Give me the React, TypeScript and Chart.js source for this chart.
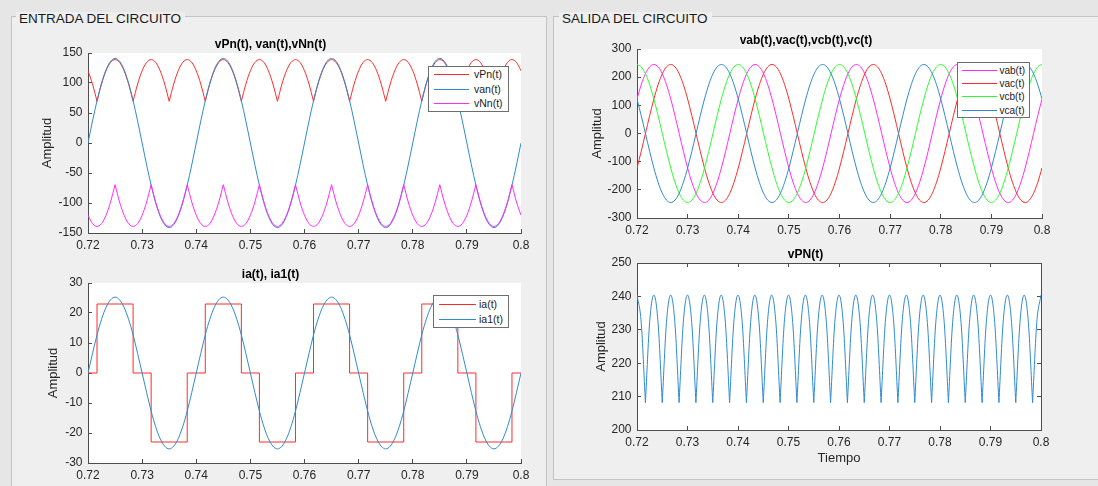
import React, { useEffect, useRef } from 'react';
import { Chart, registerables } from 'chart.js';

Chart.register(...registerables);

const FONT = '"Liberation Sans", Arial, Helvetica, sans-serif';
const AXIS_LINE = '#4d4d4d';
const TICK_TEXT = '#262626';

const RED = '#ff2b2b';
const BLUE = '#2f8bd0';
const MAGENTA = '#ff2bff';
const GREEN = '#2bff2b';

// ---------- axes ----------
const X_MIN = 0.72;
const X_MAX = 0.8;
const xTicks = [0.72, 0.73, 0.74, 0.75, 0.76, 0.77, 0.78, 0.79, 0.8];
const xTickLabels = ['0.72', '0.73', '0.74', '0.75', '0.76', '0.77', '0.78', '0.79', '0.8'];

const yTicksA = [-150, -100, -50, 0, 50, 100, 150];
const yLabelsA = ['-150', '-100', '-50', '0', '50', '100', '150'];
const yTicksB = [-30, -20, -10, 0, 10, 20, 30];
const yLabelsB = ['-30', '-20', '-10', '0', '10', '20', '30'];
const yTicksC = [-300, -200, -100, 0, 100, 200, 300];
const yLabelsC = ['-300', '-200', '-100', '0', '100', '200', '300'];
const yTicksD = [200, 210, 220, 230, 240, 250];
const yLabelsD = ['200', '210', '220', '230', '240', '250'];

// ---------- sample times (s) ----------
const tGrid = [
  0.72, 0.720833, 0.721667, 0.7225, 0.723333, 0.724167, 0.725, 0.725833, 0.726667, 0.7275, 0.728333, 0.729167,
  0.73, 0.730833, 0.731667, 0.7325, 0.733333, 0.734167, 0.735, 0.735833, 0.736667, 0.7375, 0.738333, 0.739167,
  0.74, 0.740833, 0.741667, 0.7425, 0.743333, 0.744167, 0.745, 0.745833, 0.746667, 0.7475, 0.748333, 0.749167,
  0.75, 0.750833, 0.751667, 0.7525, 0.753333, 0.754167, 0.755, 0.755833, 0.756667, 0.7575, 0.758333, 0.759167,
  0.76, 0.760833, 0.761667, 0.7625, 0.763333, 0.764167, 0.765, 0.765833, 0.766667, 0.7675, 0.768333, 0.769167,
  0.77, 0.770833, 0.771667, 0.7725, 0.773333, 0.774167, 0.775, 0.775833, 0.776667, 0.7775, 0.778333, 0.779167,
  0.78, 0.780833, 0.781667, 0.7825, 0.783333, 0.784167, 0.785, 0.785833, 0.786667, 0.7875, 0.788333, 0.789167,
  0.79, 0.790833, 0.791667, 0.7925, 0.793333, 0.794167, 0.795, 0.795833, 0.796667, 0.7975, 0.798333, 0.799167,
  0.8,
];

// ---------- ENTRADA: vPn(t), van(t), vNn(t) ----------
const vPn = [
  120.4, 98.3, 69.5, 98.3, 120.4, 134.3, 139, 134.3, 120.4, 98.3, 69.5, 98.3, 120.4, 134.3, 139, 134.3, 120.4, 98.3, 69.5, 98.3, 120.4, 134.3, 139, 134.3,
  120.4, 98.3, 69.5, 98.3, 120.4, 134.3, 139, 134.3, 120.4, 98.3, 69.5, 98.3, 120.4, 134.3, 139, 134.3, 120.4, 98.3, 69.5, 98.3, 120.4, 134.3, 139, 134.3,
  120.4, 98.3, 69.5, 98.3, 120.4, 134.3, 139, 134.3, 120.4, 98.3, 69.5, 98.3, 120.4, 134.3, 139, 134.3, 120.4, 98.3, 69.5, 98.3, 120.4, 134.3, 139, 134.3,
  120.4, 98.3, 69.5, 98.3, 120.4, 134.3, 139, 134.3, 120.4, 98.3, 69.5, 98.3, 120.4, 134.3, 139, 134.3, 120.4, 98.3, 69.5, 98.3, 120.4, 134.3, 139, 134.3,
  120.4,
];
const van = [
  0, 36.5, 70.5, 99.7, 122.1, 136.2, 141, 136.2, 122.1, 99.7, 70.5, 36.5, 0, -36.5, -70.5, -99.7, -122.1, -136.2, -141, -136.2, -122.1, -99.7, -70.5, -36.5,
  0, 36.5, 70.5, 99.7, 122.1, 136.2, 141, 136.2, 122.1, 99.7, 70.5, 36.5, 0, -36.5, -70.5, -99.7, -122.1, -136.2, -141, -136.2, -122.1, -99.7, -70.5, -36.5,
  0, 36.5, 70.5, 99.7, 122.1, 136.2, 141, 136.2, 122.1, 99.7, 70.5, 36.5, 0, -36.5, -70.5, -99.7, -122.1, -136.2, -141, -136.2, -122.1, -99.7, -70.5, -36.5,
  0, 36.5, 70.5, 99.7, 122.1, 136.2, 141, 136.2, 122.1, 99.7, 70.5, 36.5, 0, -36.5, -70.5, -99.7, -122.1, -136.2, -141, -136.2, -122.1, -99.7, -70.5, -36.5,
  0,
];
const vNn = [
  -120.4, -134.3, -139, -134.3, -120.4, -98.3, -69.5, -98.3, -120.4, -134.3, -139, -134.3, -120.4, -98.3, -69.5, -98.3, -120.4, -134.3, -139, -134.3, -120.4, -98.3, -69.5, -98.3,
  -120.4, -134.3, -139, -134.3, -120.4, -98.3, -69.5, -98.3, -120.4, -134.3, -139, -134.3, -120.4, -98.3, -69.5, -98.3, -120.4, -134.3, -139, -134.3, -120.4, -98.3, -69.5, -98.3,
  -120.4, -134.3, -139, -134.3, -120.4, -98.3, -69.5, -98.3, -120.4, -134.3, -139, -134.3, -120.4, -98.3, -69.5, -98.3, -120.4, -134.3, -139, -134.3, -120.4, -98.3, -69.5, -98.3,
  -120.4, -134.3, -139, -134.3, -120.4, -98.3, -69.5, -98.3, -120.4, -134.3, -139, -134.3, -120.4, -98.3, -69.5, -98.3, -120.4, -134.3, -139, -134.3, -120.4, -98.3, -69.5, -98.3,
  -120.4,
];

// ---------- ENTRADA: ia(t), ia1(t) ----------
const tIa = [0.72, 0.721667, 0.728333, 0.731667, 0.738333, 0.741667, 0.748333, 0.751667, 0.758333, 0.761667, 0.768333, 0.771667, 0.778333, 0.781667, 0.788333, 0.791667, 0.798333, 0.8];
const ia = [0, 23, 0, -23, 0, 23, 0, -23, 0, 23, 0, -23, 0, 23, 0, -23, 0, 0];
const ia1 = [
  0, 6.5, 12.7, 17.9, 21.9, 24.4, 25.3, 24.4, 21.9, 17.9, 12.7, 6.5, 0, -6.5, -12.7, -17.9, -21.9, -24.4, -25.3, -24.4, -21.9, -17.9, -12.7, -6.5,
  0, 6.5, 12.7, 17.9, 21.9, 24.4, 25.3, 24.4, 21.9, 17.9, 12.7, 6.5, 0, -6.5, -12.7, -17.9, -21.9, -24.4, -25.3, -24.4, -21.9, -17.9, -12.7, -6.5,
  0, 6.5, 12.7, 17.9, 21.9, 24.4, 25.3, 24.4, 21.9, 17.9, 12.7, 6.5, 0, -6.5, -12.7, -17.9, -21.9, -24.4, -25.3, -24.4, -21.9, -17.9, -12.7, -6.5,
  0, 6.5, 12.7, 17.9, 21.9, 24.4, 25.3, 24.4, 21.9, 17.9, 12.7, 6.5, 0, -6.5, -12.7, -17.9, -21.9, -24.4, -25.3, -24.4, -21.9, -17.9, -12.7, -6.5,
  0,
];

// ---------- SALIDA: vab, vac, vcb, vca ----------
const vab = [
  122.5, 173.2, 212.2, 236.7, 245, 236.7, 212.2, 173.2, 122.5, 63.4, 0, -63.4, -122.5, -173.2, -212.2, -236.7, -245, -236.7, -212.2, -173.2, -122.5, -63.4, 0, 63.4,
  122.5, 173.2, 212.2, 236.7, 245, 236.7, 212.2, 173.2, 122.5, 63.4, 0, -63.4, -122.5, -173.2, -212.2, -236.7, -245, -236.7, -212.2, -173.2, -122.5, -63.4, 0, 63.4,
  122.5, 173.2, 212.2, 236.7, 245, 236.7, 212.2, 173.2, 122.5, 63.4, 0, -63.4, -122.5, -173.2, -212.2, -236.7, -245, -236.7, -212.2, -173.2, -122.5, -63.4, 0, 63.4,
  122.5, 173.2, 212.2, 236.7, 245, 236.7, 212.2, 173.2, 122.5, 63.4, 0, -63.4, -122.5, -173.2, -212.2, -236.7, -245, -236.7, -212.2, -173.2, -122.5, -63.4, 0, 63.4,
  122.5,
];
const vac = [
  -122.5, -63.4, 0, 63.4, 122.5, 173.2, 212.2, 236.7, 245, 236.7, 212.2, 173.2, 122.5, 63.4, 0, -63.4, -122.5, -173.2, -212.2, -236.7, -245, -236.7, -212.2, -173.2,
  -122.5, -63.4, 0, 63.4, 122.5, 173.2, 212.2, 236.7, 245, 236.7, 212.2, 173.2, 122.5, 63.4, 0, -63.4, -122.5, -173.2, -212.2, -236.7, -245, -236.7, -212.2, -173.2,
  -122.5, -63.4, 0, 63.4, 122.5, 173.2, 212.2, 236.7, 245, 236.7, 212.2, 173.2, 122.5, 63.4, 0, -63.4, -122.5, -173.2, -212.2, -236.7, -245, -236.7, -212.2, -173.2,
  -122.5, -63.4, 0, 63.4, 122.5, 173.2, 212.2, 236.7, 245, 236.7, 212.2, 173.2, 122.5, 63.4, 0, -63.4, -122.5, -173.2, -212.2, -236.7, -245, -236.7, -212.2, -173.2,
  -122.5,
];
const vcb = [
  245, 236.7, 212.2, 173.2, 122.5, 63.4, 0, -63.4, -122.5, -173.2, -212.2, -236.7, -245, -236.7, -212.2, -173.2, -122.5, -63.4, 0, 63.4, 122.5, 173.2, 212.2, 236.7,
  245, 236.7, 212.2, 173.2, 122.5, 63.4, 0, -63.4, -122.5, -173.2, -212.2, -236.7, -245, -236.7, -212.2, -173.2, -122.5, -63.4, 0, 63.4, 122.5, 173.2, 212.2, 236.7,
  245, 236.7, 212.2, 173.2, 122.5, 63.4, 0, -63.4, -122.5, -173.2, -212.2, -236.7, -245, -236.7, -212.2, -173.2, -122.5, -63.4, 0, 63.4, 122.5, 173.2, 212.2, 236.7,
  245, 236.7, 212.2, 173.2, 122.5, 63.4, 0, -63.4, -122.5, -173.2, -212.2, -236.7, -245, -236.7, -212.2, -173.2, -122.5, -63.4, 0, 63.4, 122.5, 173.2, 212.2, 236.7,
  245,
];
const vca = [
  122.5, 63.4, 0, -63.4, -122.5, -173.2, -212.2, -236.7, -245, -236.7, -212.2, -173.2, -122.5, -63.4, 0, 63.4, 122.5, 173.2, 212.2, 236.7, 245, 236.7, 212.2, 173.2,
  122.5, 63.4, 0, -63.4, -122.5, -173.2, -212.2, -236.7, -245, -236.7, -212.2, -173.2, -122.5, -63.4, 0, 63.4, 122.5, 173.2, 212.2, 236.7, 245, 236.7, 212.2, 173.2,
  122.5, 63.4, 0, -63.4, -122.5, -173.2, -212.2, -236.7, -245, -236.7, -212.2, -173.2, -122.5, -63.4, 0, 63.4, 122.5, 173.2, 212.2, 236.7, 245, 236.7, 212.2, 173.2,
  122.5, 63.4, 0, -63.4, -122.5, -173.2, -212.2, -236.7, -245, -236.7, -212.2, -173.2, -122.5, -63.4, 0, 63.4, 122.5, 173.2, 212.2, 236.7, 245, 236.7, 212.2, 173.2,
  122.5,
];

// ---------- SALIDA: vPN(t) ----------
const vPN = [
  240.4, 232.2, 208.2, 232.2, 240.4, 232.2, 208.2, 232.2, 240.4, 232.2, 208.2, 232.2, 240.4, 232.2, 208.2, 232.2, 240.4, 232.2, 208.2, 232.2, 240.4, 232.2, 208.2, 232.2,
  240.4, 232.2, 208.2, 232.2, 240.4, 232.2, 208.2, 232.2, 240.4, 232.2, 208.2, 232.2, 240.4, 232.2, 208.2, 232.2, 240.4, 232.2, 208.2, 232.2, 240.4, 232.2, 208.2, 232.2,
  240.4, 232.2, 208.2, 232.2, 240.4, 232.2, 208.2, 232.2, 240.4, 232.2, 208.2, 232.2, 240.4, 232.2, 208.2, 232.2, 240.4, 232.2, 208.2, 232.2, 240.4, 232.2, 208.2, 232.2,
  240.4, 232.2, 208.2, 232.2, 240.4, 232.2, 208.2, 232.2, 240.4, 232.2, 208.2, 232.2, 240.4, 232.2, 208.2, 232.2, 240.4, 232.2, 208.2, 232.2, 240.4, 232.2, 208.2, 232.2,
  240.4,
];

// ---------- helpers ----------
const pts = (t: number[], v: number[]) => t.map((x, i) => ({ x, y: v[i] }));

// split a rectified waveform at its sharp commutation points so each arc is smoothed on its own
function arcs(t: number[], v: number[], cusp: 'min' | 'max') {
  const p = pts(t, v);
  const out: { x: number; y: number }[][] = [];
  let s = 0;
  for (let i = 1; i < v.length - 1; i++) {
    const c = cusp === 'min' ? v[i] < v[i - 1] && v[i] < v[i + 1] : v[i] > v[i - 1] && v[i] > v[i + 1];
    if (c) {
      out.push(p.slice(s, i + 1));
      s = i;
    }
  }
  out.push(p.slice(s));
  return out;
}

function line(label: string, data: any[], color: string, order: number, extra: any = {}) {
  return {
    label,
    data,
    borderColor: color,
    backgroundColor: color,
    borderWidth: 1,
    pointRadius: 0,
    pointHoverRadius: 0,
    fill: false,
    cubicInterpolationMode: 'monotone',
    order,
    ...extra,
  };
}

interface PlotSpec {
  key: string;
  x: number;
  y: number;
  w: number;
  h: number;
  area: { l: number; t: number; r: number; b: number };
  title: string;
  yMin: number;
  yMax: number;
  yTicks: number[];
  yLabels: string[];
  yTitleCx: number;
  box: boolean;
  xTitle?: string;
  xTitleCy?: number;
  datasets: any[];
}

const whiteArea = {
  id: 'whiteArea',
  beforeDraw(chart: any) {
    const { ctx, chartArea: a } = chart;
    ctx.save();
    ctx.fillStyle = '#ffffff';
    ctx.fillRect(a.left, a.top, a.right - a.left, a.bottom - a.top);
    ctx.restore();
  },
};

function buildConfig(spec: PlotSpec): any {
  const Wy = spec.area.l - spec.x;
  const padR = spec.x + spec.w - spec.area.r;
  const Hx = spec.y + spec.h - spec.area.b;
  const topBlock = spec.area.t - spec.y;
  const titleLH = 12 * 1.2;
  const titleCenter = topBlock - 8.5;
  const tPadTop = titleCenter - titleLH / 2;
  const tPadBottom = topBlock - tPadTop - titleLH;
  const yTitlePad = spec.yTitleCx - spec.x - (13 * 1.2) / 2;

  const tickFont = { family: FONT, size: 12 };
  const grid = {
    display: true,
    drawOnChartArea: false,
    drawTicks: true,
    tickLength: -4,
    color: AXIS_LINE,
    tickColor: AXIS_LINE,
    lineWidth: 1,
  };
  const border = { display: true, color: AXIS_LINE, width: 1 };
  const setXTicks = (s: any) => {
    s.ticks = xTicks.map((value) => ({ value }));
  };
  const setYTicks = (s: any) => {
    s.ticks = spec.yTicks.map((value) => ({ value }));
  };

  const scales: any = {
    x: {
      type: 'linear',
      position: 'bottom',
      min: X_MIN,
      max: X_MAX,
      afterBuildTicks: setXTicks,
      afterFit: (s: any) => {
        s.height = Hx;
      },
      ticks: {
        autoSkip: false,
        maxRotation: 0,
        minRotation: 0,
        padding: 9.5,
        font: tickFont,
        color: TICK_TEXT,
        callback: (_v: any, i: number) => xTickLabels[i],
      },
      grid,
      border,
      title: spec.xTitle
        ? {
            display: true,
            text: spec.xTitle,
            font: { family: FONT, size: 13 },
            color: TICK_TEXT,
            padding: { top: 0, bottom: Hx - 7.8 - ((spec.xTitleCy as number) - spec.area.b) },
          }
        : { display: false },
    },
    y: {
      type: 'linear',
      position: 'left',
      min: spec.yMin,
      max: spec.yMax,
      afterBuildTicks: setYTicks,
      afterFit: (s: any) => {
        s.width = Wy;
      },
      ticks: {
        autoSkip: false,
        padding: 9.5,
        font: tickFont,
        color: TICK_TEXT,
        callback: (_v: any, i: number) => spec.yLabels[i],
      },
      grid,
      border,
      title: {
        display: true,
        text: 'Amplitud',
        font: { family: FONT, size: 13 },
        color: TICK_TEXT,
        padding: { top: yTitlePad, bottom: 0 },
      },
    },
  };

  if (spec.box) {
    scales.x2 = {
      type: 'linear',
      position: 'top',
      min: X_MIN,
      max: X_MAX,
      afterBuildTicks: setXTicks,
      afterFit: (s: any) => {
        s.height = 0;
      },
      ticks: { display: false },
      grid,
      border,
    };
    scales.y2 = {
      type: 'linear',
      position: 'right',
      min: spec.yMin,
      max: spec.yMax,
      afterBuildTicks: setYTicks,
      afterFit: (s: any) => {
        s.width = 0;
      },
      ticks: { display: false },
      grid,
      border,
    };
  }

  return {
    type: 'line',
    data: { datasets: spec.datasets },
    plugins: [whiteArea],
    options: {
      animation: false,
      responsive: false,
      devicePixelRatio: 1,
      events: [],
      layout: { padding: { left: 0, top: 0, right: padR, bottom: 0 } },
      scales,
      plugins: {
        legend: { display: false },
        tooltip: { enabled: false },
        title: {
          display: true,
          text: spec.title,
          color: '#000000',
          font: { family: FONT, size: 12, weight: 'bold' },
          padding: { top: tPadTop, bottom: tPadBottom },
        },
      },
    },
  };
}

// ---------- plot definitions ----------
const plotA: PlotSpec = {
  key: 'A',
  x: 20,
  y: 29,
  w: 523,
  h: 228,
  area: { l: 88, t: 53, r: 521, b: 233 },
  title: 'vPn(t), van(t),vNn(t)',
  yMin: -150,
  yMax: 150,
  yTicks: yTicksA,
  yLabels: yLabelsA,
  yTitleCx: 47,
  box: false,
  datasets: [
    ...arcs(tGrid, vPn, 'min').map((d) => line('vPn(t)', d, RED, 3)),
    line('van(t)', pts(tGrid, van), BLUE, 2),
    ...arcs(tGrid, vNn, 'max').map((d) => line('vNn(t)', d, MAGENTA, 1)),
  ],
};

const plotB: PlotSpec = {
  key: 'B',
  x: 20,
  y: 259,
  w: 523,
  h: 227,
  area: { l: 88, t: 283, r: 521, b: 463 },
  title: 'ia(t), ia1(t)',
  yMin: -30,
  yMax: 30,
  yTicks: yTicksB,
  yLabels: yLabelsB,
  yTitleCx: 53.8,
  box: false,
  datasets: [
    line('ia(t)', pts(tIa, ia), RED, 2, { stepped: 'before', cubicInterpolationMode: 'default', tension: 0 }),
    line('ia1(t)', pts(tGrid, ia1), BLUE, 1),
  ],
};

const plotC: PlotSpec = {
  key: 'C',
  x: 570,
  y: 25,
  w: 494,
  h: 217,
  area: { l: 637, t: 49, r: 1042, b: 218 },
  title: 'vab(t),vac(t),vcb(t),vc(t)',
  yMin: -300,
  yMax: 300,
  yTicks: yTicksC,
  yLabels: yLabelsC,
  yTitleCx: 597,
  box: false,
  datasets: [
    line('vab(t)', pts(tGrid, vab), MAGENTA, 4),
    line('vac(t)', pts(tGrid, vac), RED, 3),
    line('vcb(t)', pts(tGrid, vcb), GREEN, 2),
    line('vca(t)', pts(tGrid, vca), BLUE, 1),
  ],
};

const plotD: PlotSpec = {
  key: 'D',
  x: 570,
  y: 239,
  w: 493,
  h: 227,
  area: { l: 637, t: 263, r: 1041, b: 430 },
  title: 'vPN(t)',
  yMin: 200,
  yMax: 250,
  yTicks: yTicksD,
  yLabels: yLabelsD,
  yTitleCx: 601.7,
  box: true,
  xTitle: 'Tiempo',
  xTitleCy: 458,
  datasets: arcs(tGrid, vPN, 'min').map((d) => line('vPN(t)', d, BLUE, 1)),
};

// ---------- legends ----------
interface LegendSpec {
  x: number;
  y: number;
  w: number;
  h: number;
  lineX0: number;
  lineX1: number;
  textX: number;
  row0: number;
  rowH: number;
  fontSize: number;
  items: [string, string][];
}

const legendA: LegendSpec = {
  x: 428, y: 66, w: 81, h: 46, lineX0: 5, lineX1: 40, textX: 46, row0: 8.5, rowH: 14.5, fontSize: 10.5,
  items: [['vPn(t)', RED], ['van(t)', BLUE], ['vNn(t)', MAGENTA]],
};
const legendB: LegendSpec = {
  x: 433, y: 295, w: 76, h: 33, lineX0: 5, lineX1: 42, textX: 46, row0: 9.3, rowH: 15, fontSize: 10.5,
  items: [['ia(t)', RED], ['ia1(t)', BLUE]],
};
const legendC: LegendSpec = {
  x: 957, y: 62, w: 73, h: 56, lineX0: 4, lineX1: 39, textX: 42.5, row0: 8.5, rowH: 13.2, fontSize: 10,
  items: [['vab(t)', MAGENTA], ['vac(t)', RED], ['vcb(t)', GREEN], ['vca(t)', BLUE]],
};

function Legend({ spec }: { spec: LegendSpec }) {
  return (
    <div
      style={{
        position: 'absolute',
        left: spec.x,
        top: spec.y,
        width: spec.w,
        height: spec.h,
        boxSizing: 'border-box',
        border: '1px solid #6e6e6e',
        background: '#ffffff',
        fontFamily: FONT,
        fontSize: spec.fontSize,
        color: '#1a1a1a',
      }}
    >
      {spec.items.map(([label, color], i) => {
        const cy = spec.row0 + i * spec.rowH;
        return (
          <React.Fragment key={label}>
            <div
              style={{
                position: 'absolute',
                left: spec.lineX0,
                top: cy - 1.5,
                width: spec.lineX1 - spec.lineX0,
                height: 1,
                background: color,
              }}
            />
            <div
              style={{
                position: 'absolute',
                left: spec.textX - 1,
                top: cy - spec.rowH / 2 - 1,
                height: spec.rowH,
                lineHeight: spec.rowH + 'px',
                whiteSpace: 'nowrap',
              }}
            >
              {label}
            </div>
          </React.Fragment>
        );
      })}
    </div>
  );
}

function PlotCanvas({ spec }: { spec: PlotSpec }) {
  const ref = useRef<HTMLCanvasElement | null>(null);
  useEffect(() => {
    if (!ref.current) return;
    const chart = new Chart(ref.current, buildConfig(spec));
    return () => chart.destroy();
  }, [spec]);
  return (
    <canvas
      ref={ref}
      width={spec.w}
      height={spec.h}
      style={{ position: 'absolute', left: spec.x, top: spec.y, width: spec.w, height: spec.h }}
    />
  );
}

const PANEL_BG = '#efefef';

function PanelTitle({ x, text }: { x: number; text: string }) {
  return (
    <div
      style={{
        position: 'absolute',
        left: x - 3,
        top: 12,
        padding: '0 4px 0 3px',
        background: PANEL_BG,
        fontFamily: FONT,
        fontSize: 13.5,
        lineHeight: '13.5px',
        color: '#1a1a1a',
        whiteSpace: 'nowrap',
      }}
    >
      {text}
    </div>
  );
}

export default function App() {
  return (
    <div
      style={{
        position: 'fixed',
        left: 0,
        top: 0,
        width: 1098,
        height: 486,
        overflow: 'hidden',
        background: '#e6e6e6',
        fontFamily: FONT,
      }}
    >
      <div
        style={{
          position: 'absolute',
          left: 11,
          top: 16,
          width: 536,
          height: 490,
          boxSizing: 'border-box',
          border: '1px solid #c3c3c3',
          background: PANEL_BG,
        }}
      />
      <div
        style={{
          position: 'absolute',
          left: 553,
          top: 16,
          width: 560,
          height: 464,
          boxSizing: 'border-box',
          border: '1px solid #c3c3c3',
          background: PANEL_BG,
        }}
      />
      <PanelTitle x={19} text="ENTRADA DEL CIRCUITO" />
      <PanelTitle x={562} text="SALIDA DEL CIRCUITO" />
      <PlotCanvas spec={plotA} />
      <PlotCanvas spec={plotB} />
      <PlotCanvas spec={plotC} />
      <PlotCanvas spec={plotD} />
      <Legend spec={legendA} />
      <Legend spec={legendB} />
      <Legend spec={legendC} />
    </div>
  );
}
